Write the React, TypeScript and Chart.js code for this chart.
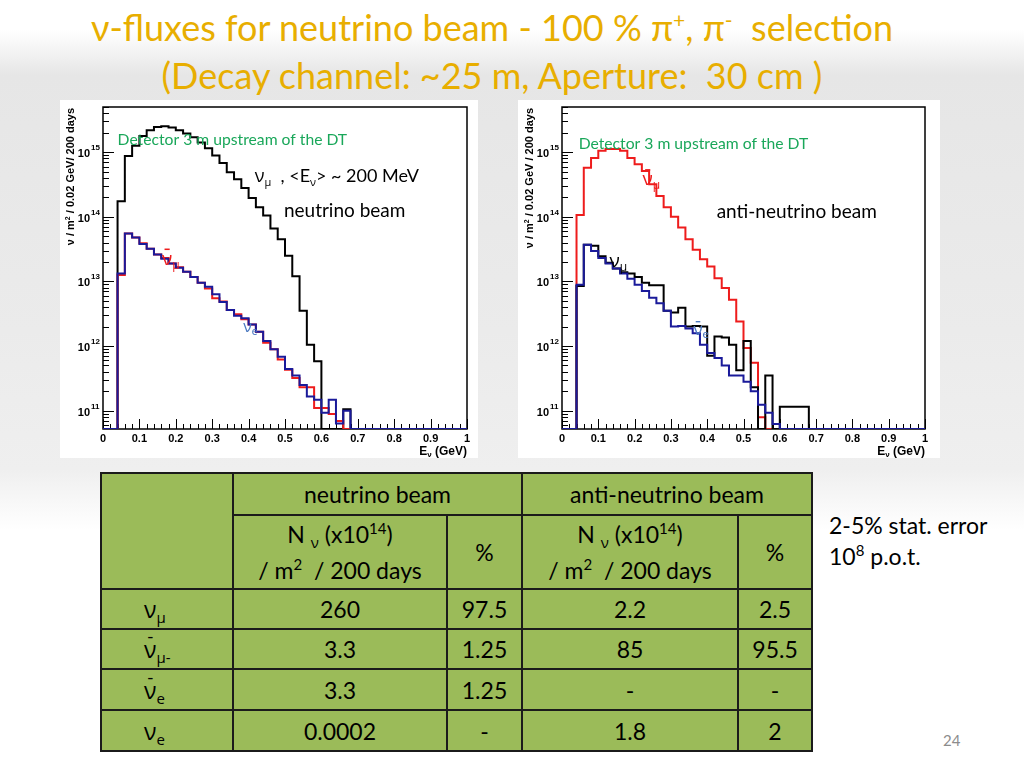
import React, { useEffect, useRef } from "react";
import { Chart, registerables } from "chart.js";
Chart.register(...registerables);

// ---------- axis definitions ----------
const BIN_EDGES = [
  0, 0.02, 0.04, 0.06, 0.08, 0.1, 0.12, 0.14, 0.16, 0.18, 0.2, 0.22, 0.24, 0.26, 0.28, 0.3, 0.32, 0.34,
  0.36, 0.38, 0.4, 0.42, 0.44, 0.46, 0.48, 0.5, 0.52, 0.54, 0.56, 0.58, 0.6, 0.62, 0.64, 0.66, 0.68, 0.7,
  0.72, 0.74, 0.76, 0.78, 0.8, 0.82, 0.84, 0.86, 0.88, 0.9, 0.92, 0.94, 0.96, 0.98, 1,
];
const X_TICKS = [0, 0.1, 0.2, 0.3, 0.4, 0.5, 0.6, 0.7, 0.8, 0.9, 1];
const X_TICK_LABELS = ["0", "0.1", "0.2", "0.3", "0.4", "0.5", "0.6", "0.7", "0.8", "0.9", "1"];
const Y_DECADES = [11, 12, 13, 14, 15];
const Y_MIN = 5.2e10;
const Y_MAX = 5e15;

// ---------- neutrino beam (left) : flux per 0.02 GeV bin ----------
const NU_BEAM_NUMU = [
  0, 0, 1.74e14, 8.7e14, 1.26e15, 1.78e15, 2.19e15, 2.45e15, 2.51e15, 2.4e15, 2.19e15, 1.95e15, 1.7e15,
  1.41e15, 1.15e15, 8.9e14, 6.8e14, 4.9e14, 3.8e14, 2.8e14, 1.95e14, 1.41e14, 1.05e14, 6.6e13, 4.5e13,
  2.5e13, 1.2e13, 3.5e12, 1.05e12, 5.8e11, 0, 0, 0, 1.05e11, 0, 0, 0, 0, 0, 0, 0, 0, 0, 0, 0, 0, 0, 0, 0, 0,
];
const NU_BEAM_NUMUBAR = [
  0, 0, 1.26e13, 5.5e13, 4.8e13, 3.9e13, 3.2e13, 2.6e13, 2.3e13, 1.9e13, 1.66e13, 1.41e13, 1.17e13,
  9.5e12, 7.8e12, 5.5e12, 4.9e12, 3.6e12, 3.1e12, 2.6e12, 2.15e12, 1.66e12, 1.12e12, 8.9e11, 6.2e11,
  4.3e11, 3.2e11, 2.3e11, 2.3e11, 1.1e11, 1.1e11, 8.9e10, 6.9e10, 0, 0, 0, 0, 0, 0, 0, 0, 0, 0, 0, 0, 0, 0,
  0, 0, 0,
];
const NU_BEAM_NUEBAR = [
  0, 0, 1.32e13, 5.5e13, 4.8e13, 3.8e13, 3.2e13, 2.6e13, 2.24e13, 1.9e13, 1.62e13, 1.41e13, 1.17e13,
  9.5e12, 8.3e12, 6.3e12, 4.8e12, 3.6e12, 2.95e12, 2.7e12, 2.15e12, 1.66e12, 1.2e12, 8.9e11, 6.8e11,
  4.4e11, 3.5e11, 2.5e11, 1.66e11, 1.48e11, 9.3e10, 1.48e11, 6.3e10, 1.0e11, 0, 0, 0, 0, 0, 0, 0, 0, 0, 0,
  0, 0, 0, 0, 0, 0,
];

// ---------- anti-neutrino beam (right) ----------
const ANTI_BEAM_NUMUBAR = [
  0, 0, 1.07e14, 5.75e14, 8.1e14, 1.05e15, 1.12e15, 1.12e15, 1.05e15, 8.1e14, 6.5e14, 5.1e14, 3.2e14,
  2.1e14, 1.41e14, 1.0e14, 6.8e13, 4.5e13, 3.1e13, 2.2e13, 1.7e13, 1.12e13, 7.9e12, 5.2e12, 2.4e12,
  9.3e11, 5.5e11, 7.9e10, 0, 0, 0, 0, 0, 0, 0, 0, 0, 0, 0, 0, 0, 0, 0, 0, 0, 0, 0, 0, 0, 0,
];
const ANTI_BEAM_NUMU = [
  0, 0, 8.5e12, 3.7e13, 3.55e13, 2.45e13, 1.95e13, 1.58e13, 1.38e13, 1.32e13, 1.17e13, 9.5e12, 8.7e12,
  8.7e12, 3.5e12, 3.3e12, 3.9e12, 2.0e12, 2.05e12, 2.0e12, 7.1e11, 1.41e12, 1.35e12, 1.05e12, 4.2e11,
  1.2e12, 2.3e11, 0, 3.5e11, 0, 1.15e11, 1.15e11, 1.15e11, 1.15e11, 0, 0, 0, 0, 0, 0, 0, 0, 0, 0, 0, 0, 0,
  0, 0, 0,
];
const ANTI_BEAM_NUE = [
  0, 0, 8.9e12, 3.7e13, 2.95e13, 2.3e13, 1.9e13, 1.58e13, 1.32e13, 1.1e13, 8.9e12, 7.1e12, 5.6e12,
  4.6e12, 3.5e12, 2.0e12, 2.05e12, 1.86e12, 1.58e12, 1.05e12, 7.8e11, 6.5e11, 5.0e11, 3.5e11, 3.5e11,
  2.8e11, 2.0e11, 1.23e11, 9.3e10, 6.2e10, 0, 0, 0, 0, 0, 0, 0, 0, 0, 0, 0, 0, 0, 0, 0, 0, 0, 0, 0, 0,
];

// ---------- table ----------
const TABLE_NU_N = ["260", "3.3", "3.3", "0.0002"];
const TABLE_NU_PCT = ["97.5", "1.25", "1.25", "-"];
const TABLE_ANTI_N = ["2.2", "85", "-", "1.8"];
const TABLE_ANTI_PCT = ["2.5", "95.5", "-", "2"];

const BLACK = "#000000";
const RED = "#ee1c1c";
const BLUE = "#1a1a9a";
const GREEN = "#1aa75a";
const LIGHTBLUE = "#4a78c0";
const ROOT_FONT = '"Liberation Sans", Arial, sans-serif';
const SLIDE_FONT = 'Lato, "Open Sans", "Noto Sans", sans-serif';
const GREEK_FONT = '"Open Sans", "Noto Sans", sans-serif';

type Run = { t: string; size: number; dy?: number; bold?: boolean; bar?: boolean; greek?: boolean };
type Note = { x: number; y: number; color: string; runs: Run[] };

function fontOf(r: Run, family: string) {
  return `${r.bold ? "bold " : ""}${r.size}px ${r.greek ? GREEK_FONT : family}`;
}

function drawRuns(ctx: CanvasRenderingContext2D, x: number, y: number, runs: Run[], family: string, align: string, color: string) {
  const widths = runs.map((r) => {
    ctx.font = fontOf(r, family);
    return ctx.measureText(r.t).width;
  });
  const total = widths.reduce((a, b) => a + b, 0);
  let cx = align === "right" ? x - total : align === "center" ? x - total / 2 : x;
  ctx.fillStyle = color;
  ctx.textBaseline = "alphabetic";
  ctx.textAlign = "left";
  runs.forEach((r, i) => {
    ctx.font = fontOf(r, family);
    ctx.fillText(r.t, cx, y + (r.dy || 0));
    if (r.bar) {
      ctx.fillRect(cx + widths[i] * 0.25, y - r.size * 0.85, widths[i] * 0.5, Math.max(1.2, r.size * 0.08));
    }
    cx += widths[i];
  });
}

function rootPlugin(notes: Note[], yTitle: Run[]) {
  return {
    id: "rootFrame",
    beforeDatasetsDraw(chart: any) {
      const { ctx, chartArea: a, scales } = chart;
      const xs = scales.x;
      const ys = scales.y;
      ctx.save();
      ctx.strokeStyle = "#000";
      ctx.lineWidth = 1.5;
      ctx.strokeRect(a.left, a.top, a.right - a.left, a.bottom - a.top);
      ctx.lineWidth = 1;
      BIN_EDGES.forEach((e, i) => {
        const px = Math.round(xs.getPixelForValue(e)) + 0.5;
        const len = i % 5 === 0 ? 10 : 5;
        ctx.beginPath();
        ctx.moveTo(px, a.bottom);
        ctx.lineTo(px, a.bottom - len);
        ctx.stroke();
      });
      [10, ...Y_DECADES].forEach((d) => {
        for (let k = 1; k <= 9; k++) {
          const v = k * Math.pow(10, d);
          if (v < Y_MIN || v > Y_MAX) continue;
          const py = Math.round(ys.getPixelForValue(v)) + 0.5;
          ctx.beginPath();
          ctx.moveTo(a.left, py);
          ctx.lineTo(a.left + (k === 1 ? 11 : 6), py);
          ctx.stroke();
        }
      });
      X_TICKS.forEach((t, i) => {
        const px = xs.getPixelForValue(t);
        drawRuns(ctx, px, a.bottom + 13, [{ t: X_TICK_LABELS[i], size: 11, bold: true }], ROOT_FONT, "center", "#000");
      });
      Y_DECADES.forEach((d) => {
        const py = ys.getPixelForValue(Math.pow(10, d));
        drawRuns(ctx, a.left - 13, py + 5, [{ t: "10", size: 11, bold: true }], ROOT_FONT, "right", "#000");
        drawRuns(ctx, a.left - 12, py - 2, [{ t: String(d), size: 8, bold: true }], ROOT_FONT, "left", "#000");
      });
      drawRuns(
        ctx,
        a.right,
        a.bottom + 26,
        [
          { t: "E", size: 12, bold: true },
          { t: "ν", size: 8, bold: true, dy: 2 },
          { t: " (GeV)", size: 12, bold: true },
        ],
        ROOT_FONT,
        "right",
        "#000"
      );
      ctx.save();
      ctx.translate(a.left - 29, a.top + 1);
      ctx.rotate(-Math.PI / 2);
      drawRuns(ctx, 0, 0, yTitle, ROOT_FONT, "right", "#000");
      ctx.restore();
      ctx.restore();
    },
    afterDatasetsDraw(chart: any) {
      const { ctx, scales } = chart;
      ctx.save();
      notes.forEach((n) => {
        const px = scales.x.getPixelForValue(n.x);
        const py = scales.y.getPixelForValue(n.y);
        const size = n.runs[0].size;
        drawRuns(ctx, px, py + size * 0.35, n.runs, SLIDE_FONT, "left", n.color);
      });
      ctx.restore();
    },
  };
}

type Series = { values: number[]; color: string };

function HistChart(props: {
  width: number;
  height: number;
  padding: { left: number; right: number; top: number; bottom: number };
  series: Series[];
  notes: Note[];
  yTitle: Run[];
}) {
  const ref = useRef<HTMLCanvasElement>(null);
  useEffect(() => {
    const datasets = props.series.map((s) => ({
      data: BIN_EDGES.map((e, i) => {
        const v = s.values[Math.min(i, s.values.length - 1)];
        return { x: e, y: v > 0 ? v : Y_MIN };
      }),
      borderColor: s.color,
      borderWidth: 2,
      stepped: true as const,
      pointRadius: 0,
      fill: false,
      tension: 0,
    }));
    const chart = new Chart(ref.current as HTMLCanvasElement, {
      type: "line",
      data: { datasets },
      options: {
        animation: false,
        responsive: false,
        events: [],
        layout: { padding: props.padding },
        plugins: { legend: { display: false }, tooltip: { enabled: false } },
        scales: {
          x: { type: "linear", min: 0, max: 1, display: false },
          y: { type: "logarithmic", min: Y_MIN, max: Y_MAX, display: false },
        },
      },
      plugins: [rootPlugin(props.notes, props.yTitle)],
    } as any);
    return () => chart.destroy();
  }, []);
  return (
    <canvas
      ref={ref}
      width={props.width}
      height={props.height}
      style={{ display: "block", width: props.width, height: props.height, background: "#fff" }}
    />
  );
}

const detector: Run[] = [{ t: "Detector 3 m upstream of the DT", size: 15.7 }];

const LEFT_NOTES: Note[] = [
  { x: 0.04, y: 1.57e15, color: GREEN, runs: detector },
  {
    x: 0.417,
    y: 4.4e14,
    color: "#000",
    runs: [
      { t: "ν", size: 18, greek: true },
      { t: "μ", size: 11, dy: 4, greek: true },
      { t: "  , <E", size: 18 },
      { t: "ν", size: 11, dy: 4, greek: true },
      { t: "> ~ 200 MeV", size: 18 },
    ],
  },
  { x: 0.497, y: 1.25e14, color: "#000", runs: [{ t: "neutrino beam", size: 19 }] },
  { x: 0.162, y: 2.3e13, color: RED, runs: [{ t: "ν", size: 19, bar: true, greek: true }, { t: "μ", size: 12, dy: 4, greek: true }] },
  { x: 0.385, y: 2.0e12, color: LIGHTBLUE, runs: [{ t: "ν", size: 16, greek: true }, { t: "e", size: 11, dy: 3 }] },
];

const RIGHT_NOTES: Note[] = [
  { x: 0.046, y: 1.36e15, color: GREEN, runs: detector },
  { x: 0.426, y: 1.2e14, color: "#000", runs: [{ t: "anti-neutrino beam", size: 19 }] },
  { x: 0.222, y: 3.9e14, color: RED, runs: [{ t: "ν", size: 19, bar: true, greek: true }, { t: "μ", size: 12, dy: 4, greek: true }] },
  { x: 0.131, y: 2.1e13, color: "#000", runs: [{ t: "ν", size: 19, greek: true }, { t: "μ", size: 12, dy: 4, greek: true }] },
  { x: 0.362, y: 1.8e12, color: LIGHTBLUE, runs: [{ t: "ν", size: 17, bar: true, greek: true }, { t: "e", size: 12, dy: 3 }] },
];

const yTitleLeft: Run[] = [
  { t: "ν / m", size: 11, bold: true },
  { t: "2", size: 7, bold: true, dy: -4 },
  { t: " / 0.02 GeV/ 200 days", size: 11, bold: true },
];
const yTitleRight: Run[] = [
  { t: "ν / m", size: 11, bold: true },
  { t: "2", size: 7, bold: true, dy: -4 },
  { t: " / 0.02 GeV / 200 days", size: 11, bold: true },
];

const cell: React.CSSProperties = {
  border: "2px solid #1b1b1b",
  textAlign: "center",
  verticalAlign: "middle",
  padding: 0,
  color: "#000",
  lineHeight: "26px",
  overflow: "hidden",
};

const supS: React.CSSProperties = { fontSize: 15, lineHeight: 0, verticalAlign: "9px" };
const subS: React.CSSProperties = { fontSize: 15, lineHeight: 0, verticalAlign: "-5px" };

const Nu = (p: { sub: string; bar?: boolean }) => (
  <span style={{ position: "relative", display: "inline-block", lineHeight: "26px", paddingLeft: 14 }}>
    {p.bar ? (
      <span style={{ position: "absolute", left: 17, top: -13, fontSize: 18 }}>-</span>
    ) : null}
    <span style={{ fontFamily: GREEK_FONT }}>ν</span>
    <span style={{ ...subS, fontFamily: GREEK_FONT }}>{p.sub}</span>
  </span>
);

const ROW_LABELS = [<Nu sub="μ" />, <Nu sub="μ-" bar />, <Nu sub="e" bar />, <Nu sub="e" />];

const Header2 = () => (
  <div style={{ lineHeight: "36px" }}>
    N <span style={{ ...subS, fontFamily: GREEK_FONT }}>ν</span> (x10<span style={supS}>14</span>)
    <br />/ m<span style={supS}>2</span> &nbsp;/ 200 days
  </div>
);

export default function App() {
  return (
    <div
      style={{
        position: "absolute",
        left: 0,
        top: 0,
        width: 1024,
        height: 768,
        overflow: "hidden",
        background: "#fff",
        fontFamily: SLIDE_FONT,
      }}
    >
      <div
        style={{
          position: "absolute",
          left: 0,
          top: 30,
          width: 1024,
          height: 500,
          background:
            "linear-gradient(to bottom, rgba(232,232,232,0) 0px, #e6e6e6 45px, #ebebeb 300px, #efefef 440px, rgba(255,255,255,0) 500px)",
        }}
      />
      <div
        style={{
          position: "absolute",
          left: 0,
          width: 984,
          top: 3,
          textAlign: "center",
          color: "#e8ae00",
          fontSize: 36,
          lineHeight: "48px",
          whiteSpace: "nowrap",
        }}
      >
        ν-fluxes for neutrino beam - 100 % π<span style={{ fontSize: 21, lineHeight: 0, verticalAlign: "13px" }}>+</span>, π
        <span style={{ fontSize: 21, lineHeight: 0, verticalAlign: "13px" }}>-</span> &nbsp;selection
        <br />
        (Decay channel: ~25 m, Aperture: &nbsp;30 cm )
      </div>
      <div style={{ position: "absolute", left: 60, top: 100 }}>
        <HistChart
          width={418}
          height={358}
          padding={{ left: 43, right: 11, top: 7, bottom: 29 }}
          series={[
            { values: NU_BEAM_NUEBAR, color: BLUE },
            { values: NU_BEAM_NUMUBAR, color: RED },
            { values: NU_BEAM_NUMU, color: BLACK },
          ]}
          notes={LEFT_NOTES}
          yTitle={yTitleLeft}
        />
      </div>
      <div style={{ position: "absolute", left: 518, top: 100 }}>
        <HistChart
          width={422}
          height={358}
          padding={{ left: 44, right: 15, top: 7, bottom: 29 }}
          series={[
            { values: ANTI_BEAM_NUE, color: BLUE },
            { values: ANTI_BEAM_NUMU, color: BLACK },
            { values: ANTI_BEAM_NUMUBAR, color: RED },
          ]}
          notes={RIGHT_NOTES}
          yTitle={yTitleRight}
        />
      </div>
      <table
        style={{
          position: "absolute",
          left: 100,
          top: 472,
          borderCollapse: "collapse",
          background: "#9bbb59",
          fontSize: 23,
          tableLayout: "fixed",
          width: 711,
          height: 278,
        }}
      >
        <colgroup>
          <col style={{ width: 132 }} />
          <col style={{ width: 214 }} />
          <col style={{ width: 75 }} />
          <col style={{ width: 216 }} />
          <col style={{ width: 74 }} />
        </colgroup>
        <tbody>
          <tr style={{ height: 42 }}>
            <td style={cell} rowSpan={2}></td>
            <td style={cell} colSpan={2}>
              neutrino beam
            </td>
            <td style={cell} colSpan={2}>
              anti-neutrino beam
            </td>
          </tr>
          <tr style={{ height: 74 }}>
            <td style={cell}>
              <Header2 />
            </td>
            <td style={cell}>%</td>
            <td style={cell}>
              <Header2 />
            </td>
            <td style={cell}>%</td>
          </tr>
          {ROW_LABELS.map((lab, i) => (
            <tr key={i} style={{ height: i < 2 ? 40 : 41 }}>
              <td style={{ ...cell, textAlign: "left", paddingLeft: 28 }}>{lab}</td>
              <td style={cell}>{TABLE_NU_N[i]}</td>
              <td style={cell}>{TABLE_NU_PCT[i]}</td>
              <td style={cell}>{TABLE_ANTI_N[i]}</td>
              <td style={cell}>{TABLE_ANTI_PCT[i]}</td>
            </tr>
          ))}
        </tbody>
      </table>
      <div style={{ position: "absolute", left: 829, top: 510, fontSize: 23, lineHeight: "31px", color: "#000" }}>
        2-5% stat. error
        <br />
        10<span style={supS}>8</span> p.o.t.
      </div>
      <div style={{ position: "absolute", left: 943, top: 731, fontSize: 15, color: "#8c8c8c" }}>24</div>
    </div>
  );
}
